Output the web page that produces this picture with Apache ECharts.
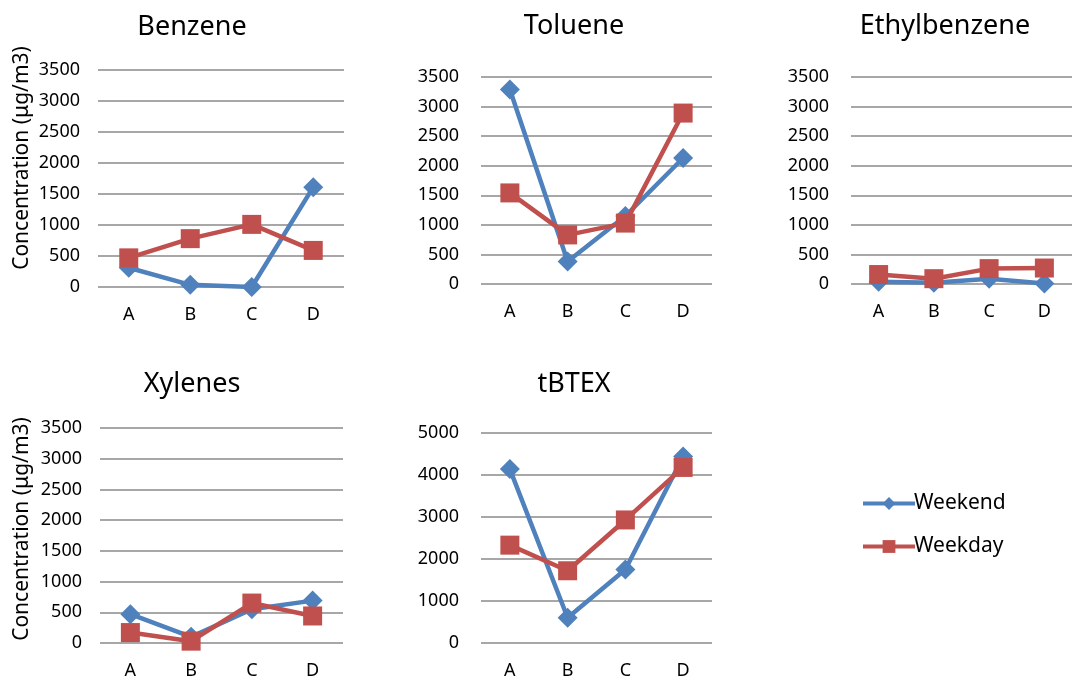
<!DOCTYPE html>
<html>
<head>
<meta charset="utf-8">
<script src="https://cdn.jsdelivr.net/npm/echarts@6/dist/echarts.min.js"></script>
<style>html,body{margin:0;padding:0;background:#fff}#c{width:1072px;height:680px}</style>
</head>
<body>
<div id="c"></div>
<script>
const categories = ['A', 'B', 'C', 'D'];
const panelTitles = ['Benzene', 'Toluene', 'Ethylbenzene', 'Xylenes', 'tBTEX'];
const weekendBenzene = [310, 35, 0, 1610];
const weekdayBenzene = [470, 780, 1010, 590];
const weekendToluene = [3290, 380, 1150, 2130];
const weekdayToluene = [1540, 830, 1030, 2890];
const weekendEthylbenzene = [40, 20, 90, 10];
const weekdayEthylbenzene = [160, 90, 260, 270];
const weekendXylenes = [470, 100, 550, 690];
const weekdayXylenes = [170, 30, 650, 440];
const weekendTBTEX = [4140, 600, 1750, 4440];
const weekdayTBTEX = [2330, 1720, 2930, 4180];
const yMax = [3500, 3500, 3500, 3500, 5000];
const yInterval = [500, 500, 500, 500, 1000];
const yAxisTitle = 'Concentration (μg/m3)';

const weekendSets = [weekendBenzene, weekendToluene, weekendEthylbenzene, weekendXylenes, weekendTBTEX];
const weekdaySets = [weekdayBenzene, weekdayToluene, weekdayEthylbenzene, weekdayXylenes, weekdayTBTEX];

const FONT = 'Noto Sans';
const BLUE = '#4F81BD';
const RED = '#C0504D';

const grids = [
  {left: 98, top: 70, width: 246, height: 217},
  {left: 481, top: 77, width: 231, height: 207},
  {left: 851, top: 77, width: 232, height: 207},
  {left: 100, top: 428, width: 243, height: 218},
  {left: 481, top: 433, width: 231, height: 210}
];
const titlePos = [
  {x: 187, y: 9}, {x: 569, y: 8}, {x: 940, y: 8}, {x: 187, y: 366}, {x: 569, y: 366}
];
const labelMargin = [18, 22, 22, 18, 22];

const option = {
  backgroundColor: '#fff',
  animation: false,
  title: panelTitles.map((t, i) => ({
    text: t, left: titlePos[i].x, top: titlePos[i].y, textAlign: 'center',
    textStyle: {fontFamily: FONT, fontSize: 27, fontWeight: 'normal', color: '#000'}
  })),
  legend: {
    orient: 'vertical', left: 856, top: 488, itemWidth: 52, itemHeight: 16, itemGap: 22,
    data: ['Weekend', 'Weekday'],
    lineStyle: {width: 4},
    textStyle: {fontFamily: FONT, fontSize: 21, color: '#000', padding: [0, 0, 0, -6]}
  },
  grid: grids.map(g => Object.assign({containLabel: false}, g)),
  xAxis: grids.map((g, i) => ({
    type: 'category', gridIndex: i, data: categories, boundaryGap: true,
    axisLine: {show: false}, axisTick: {show: false},
    axisLabel: {fontFamily: FONT, fontSize: 18, color: '#000', margin: 19}
  })),
  yAxis: grids.map((g, i) => ({
    type: 'value', gridIndex: i, min: 0, max: yMax[i], interval: yInterval[i],
    axisLine: {show: false}, axisTick: {show: false},
    axisLabel: {fontFamily: FONT, fontSize: 18, color: '#000', margin: labelMargin[i],
      formatter: v => String(v)},
    splitLine: {lineStyle: {color: '#8a8a8a', width: 1.6}}
  })),
  series: [],
  graphic: [
    {type: 'text', x: 22, y: 158, rotation: Math.PI / 2,
     style: {text: yAxisTitle, fontFamily: FONT, fontSize: 21, fill: '#000', align: 'center', verticalAlign: 'middle'}},
    {type: 'text', x: 22, y: 529, rotation: Math.PI / 2,
     style: {text: yAxisTitle, fontFamily: FONT, fontSize: 21, fill: '#000', align: 'center', verticalAlign: 'middle'}}
  ]
};

for (let i = 0; i < 5; i++) {
  option.series.push({
    name: 'Weekend', type: 'line', xAxisIndex: i, yAxisIndex: i, data: weekendSets[i],
    symbol: 'diamond', symbolSize: 20, color: BLUE,
    lineStyle: {width: 4.5, color: BLUE}, itemStyle: {color: BLUE}, z: 2
  });
  option.series.push({
    name: 'Weekday', type: 'line', xAxisIndex: i, yAxisIndex: i, data: weekdaySets[i],
    symbol: 'rect', symbolSize: 19, color: RED,
    lineStyle: {width: 4.5, color: RED}, itemStyle: {color: RED}, z: 3
  });
}

const chart = echarts.init(document.getElementById('c'), null, {renderer: 'canvas'});
chart.setOption(option);
</script>
</body>
</html>
